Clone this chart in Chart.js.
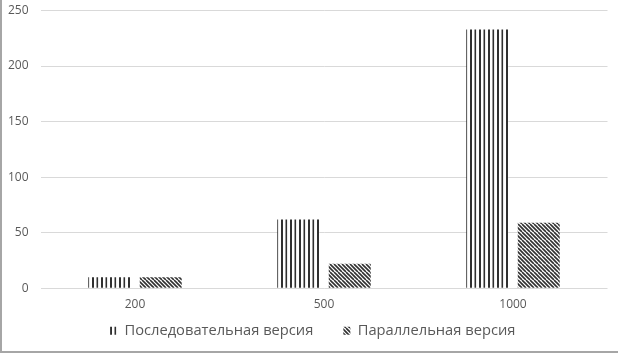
<!DOCTYPE html>
<html><head><meta charset="utf-8">
<script src="https://cdn.jsdelivr.net/npm/chart.js@4/dist/chart.umd.min.js"></script>
<style>
html,body{margin:0;padding:0;background:#fff;}
#wrap{width:618px;height:353px;box-sizing:border-box;border-left:2px solid #a6a6a6;border-bottom:2px solid #a6a6a6;position:relative;}
canvas{display:block;}
</style></head>
<body><div id="wrap"><canvas id="c" width="616" height="351"></canvas></div>
<script>
const categories = ['200', '500', '1000'];
const seriesNames = ['Последовательная версия', 'Параллельная версия'];
const sequentialValues = [10, 62, 233];
const parallelValues = [10, 22, 59];
const yTicks = [0, 50, 100, 150, 200, 250];

function verticalPattern() {
  const c = document.createElement('canvas'); c.width = 9; c.height = 4;
  const x = c.getContext('2d');
  x.fillStyle = '#fff'; x.fillRect(0,0,9,4);
  x.fillStyle = '#303030'; x.fillRect(0,0,2,4); x.fillRect(4.5,0,1.6,4);
  return x.createPattern(c, 'repeat');
}
function diagPattern() {
  const c = document.createElement('canvas'); c.width = 8; c.height = 8;
  const x = c.getContext('2d');
  x.fillStyle = '#fff'; x.fillRect(0,0,8,8);
  x.strokeStyle = '#303030'; x.lineWidth = 1.6;
  for (let k = -8; k <= 8; k += 4) { x.beginPath(); x.moveTo(k,0); x.lineTo(k+8,8); x.stroke(); }
  return x.createPattern(c, 'repeat');
}
const p1 = verticalPattern(), p2 = diagPattern();
const FONT = "'Open Sans', 'Liberation Sans', sans-serif";

// Legend items need wide horizontal spacing but a compact height.
const LEGEND_SHRINK = 16;
const LEGEND_SHIFT_X = 8;
const legendFix = {
  id: 'legendFix',
  beforeLayout(chart) {
    const lg = chart.legend;
    if (!lg || lg._fixed) return;
    lg._fixed = true;
    const fit = lg.fit, draw = lg.draw;
    lg.fit = function () { fit.call(this); this.height -= LEGEND_SHRINK; };
    lg.draw = function (a) {
      this.top -= LEGEND_SHRINK; this.left += LEGEND_SHIFT_X; this.right += LEGEND_SHIFT_X;
      draw.call(this, a);
      this.top += LEGEND_SHRINK; this.left -= LEGEND_SHIFT_X; this.right -= LEGEND_SHIFT_X;
    };
  }
};

new Chart(document.getElementById('c'), {
  type: 'bar',
  data: {
    labels: categories,
    datasets: [
      { label: seriesNames[0], data: sequentialValues, backgroundColor: p1, borderWidth: 0 },
      { label: seriesNames[1], data: parallelValues, backgroundColor: p2, borderWidth: 0 }
    ]
  },
  plugins: [legendFix],
  options: {
    responsive: false, animation: false,
    layout: { padding: { top: 10.5, right: 10.5, left: 0, bottom: 3 } },
    datasets: { bar: { categoryPercentage: 0.545, barPercentage: 0.815 } },
    scales: {
      x: {
        grid: { display: false, drawTicks: false },
        border: { display: false },
        ticks: { color: '#595959', font: { family: FONT, size: 12 }, padding: 9 },
        afterFit: s => { s.height = 21; s.paddingLeft = 0; s.paddingRight = 0; }
      },
      y: {
        min: 0, max: 250,
        afterBuildTicks: s => { s.ticks = yTicks.map(v => ({ value: v })); },
        grid: { color: '#d9d9d9', drawTicks: false },
        border: { display: false },
        ticks: { color: '#595959', font: { family: FONT, size: 12 }, padding: 12 },
        afterFit: s => { s.width = 38.5; s.paddingTop = 0; s.paddingBottom = 0; }
      }
    },
    plugins: {
      tooltip: { enabled: false },
      legend: {
        position: 'bottom',
        labels: {
          color: '#595959', font: { family: FONT, size: 14.7 },
          boxWidth: 7, boxHeight: 8, padding: 30,
          generateLabels: chart => chart.data.datasets.map((d, i) => ({
            text: d.label, fillStyle: i === 0 ? p1 : p2, strokeStyle: 'rgba(0,0,0,0)', lineWidth: 0,
            fontColor: '#595959', datasetIndex: i, hidden: false
          }))
        }
      }
    }
  }
});
</script></body></html>
